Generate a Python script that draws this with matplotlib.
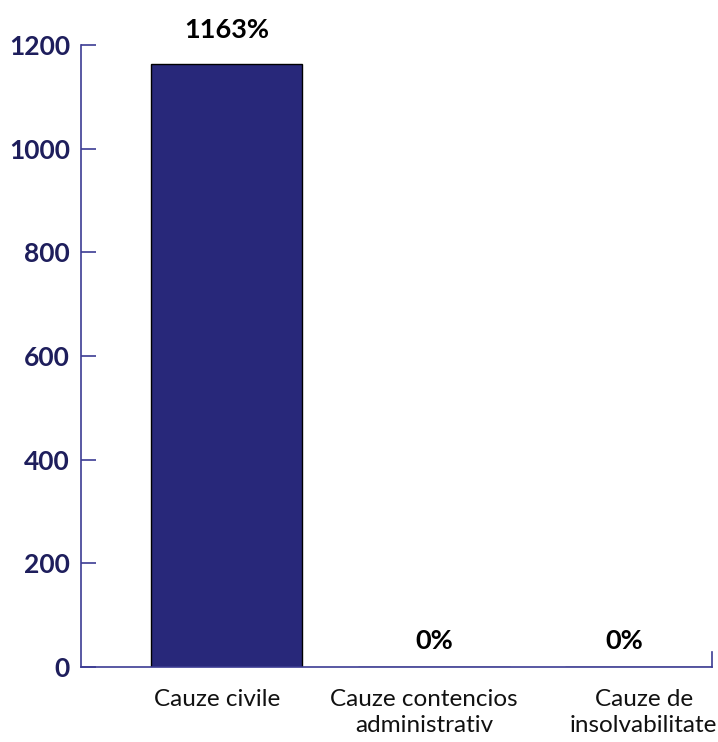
import matplotlib
matplotlib.use("Agg")
import matplotlib.pyplot as plt
import matplotlib.transforms as mtransforms
import numpy as np

categories = ["Cauze civile", "Cauze contencios\nadministrativ", "Cauze de\ninsolvabilitate"]
values = [1163, 0, 0]
value_labels = ["1163%", "0%", "0%"]
y_ticks = [0, 200, 400, 600, 800, 1000, 1200]

NAVY = "#28287a"
AXIS = "#3c3c94"
TICK_TXT = "#1e1e5c"

plt.rcParams["font.family"] = ["Lato", "DejaVu Sans"]

fig = plt.figure(figsize=(7.18, 7.42), dpi=100)
ax = fig.add_axes([0.1128, 0.1011, 0.8788, 0.8383])

x = np.arange(len(categories))
ax.bar(x, values, width=0.73, color=NAVY, edgecolor="black", linewidth=1.0, zorder=2)

# small nudges for the value labels (points)
label_dx = [0, 0, -12]
label_dy = [16, 10, 10]
for xi, v, lab, dx, dy in zip(x, values, value_labels, label_dx, label_dy):
    ax.annotate(lab, (xi, v), xytext=(dx, dy), textcoords="offset points",
                ha="center", va="bottom", fontsize=19.5, fontweight="bold", color="black")

ax.set_xlim(-0.705, 2.343)
ax.set_ylim(0, 1200)
ax.set_yticks(y_ticks)
ax.set_yticklabels([str(t) for t in y_ticks], fontsize=19, fontweight="bold", color=TICK_TXT)
ax.tick_params(axis="y", direction="in", length=11, width=1.2, color=AXIS, pad=8)

ax.set_xticks(x)
ax.set_xticklabels(categories, fontsize=17.5, color="#111111", linespacing=1.3)
ax.tick_params(axis="x", length=0, pad=16)
tick_dx = [-7, -7, 2]
for lbl, dx in zip(ax.get_xticklabels(), tick_dx):
    lbl.set_transform(lbl.get_transform() + mtransforms.ScaledTranslation(dx / 72, 0, fig.dpi_scale_trans))

# right-end boundary tick on the category axis
ax.plot([2.343, 2.343], [0, 28], color=AXIS, lw=1.2, clip_on=False, zorder=3)

for side in ["top", "right"]:
    ax.spines[side].set_visible(False)
for side in ["left", "bottom"]:
    ax.spines[side].set_color(AXIS)
    ax.spines[side].set_linewidth(1.2)

fig.savefig("out.png", dpi=100)
